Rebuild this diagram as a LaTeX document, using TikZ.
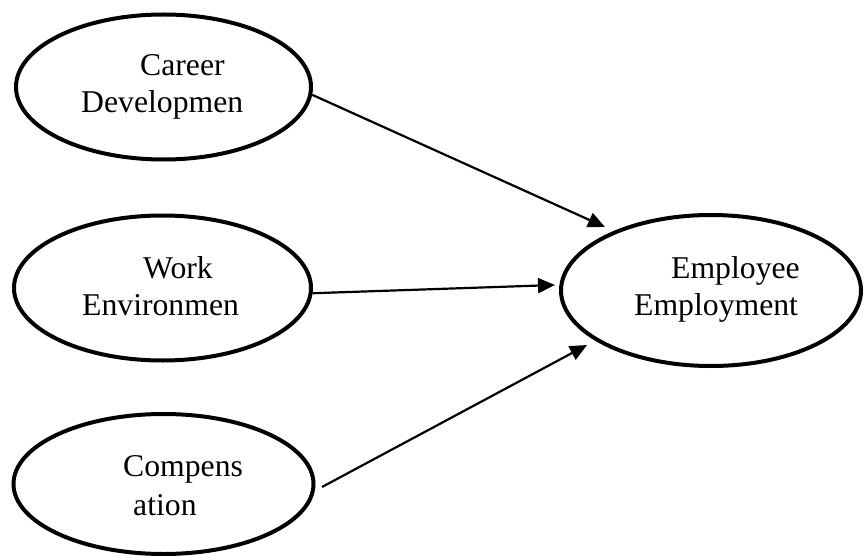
\documentclass[tikz,border=0pt]{standalone}
\usepackage{fontspec}
\setmainfont{Liberation Serif}
\usetikzlibrary{shapes.geometric,arrows.meta}
\begin{document}
\begin{tikzpicture}[x=1pt,y=-1pt,
  oval/.style={draw,ellipse,line width=4pt,inner sep=0pt},
  lbl/.style={anchor=base west,inner sep=0pt,font=\fontsize{31.7pt}{37pt}\selectfont},
  link/.style={line width=2.2pt,-{Triangle[length=17pt,width=15pt]}}]
\useasboundingbox (0,0) rectangle (864,556);
\node[oval,minimum width=295pt,minimum height=145pt] (car) at (163.5,87) {};
\node[oval,minimum width=297pt,minimum height=145pt] (work) at (162.5,288) {};
\node[oval,minimum width=300pt,minimum height=140pt] (comp) at (163.5,484) {};
\node[oval,minimum width=300pt,minimum height=151pt] (emp) at (711,290.5) {};
\node[lbl] (carA) at (140,76) {Career};
\node[lbl] (carB) at (81,113) {Developmen};
\node[lbl] (workA) at (143,278) {Work};
\node[lbl] (workB) at (82,315) {Environmen};
\node[lbl] (compA) at (123,476) {Compens};
\node[lbl] (compB) at (133,515) {ation};
\node[lbl] (empA) at (671,278) {Employee};
\node[lbl] (empB) at (634,315) {Employment};
\coordinate (t1) at (605,227);
\coordinate (t2) at (555,285);
\coordinate (t3) at (587,345);
\coordinate (s3) at (322,487);
\draw[link] (car.-3) -- (t1);
\draw[link] (work.-2) -- (t2);
\draw[link] (s3) -- (t3);
\end{tikzpicture}
\end{document}
